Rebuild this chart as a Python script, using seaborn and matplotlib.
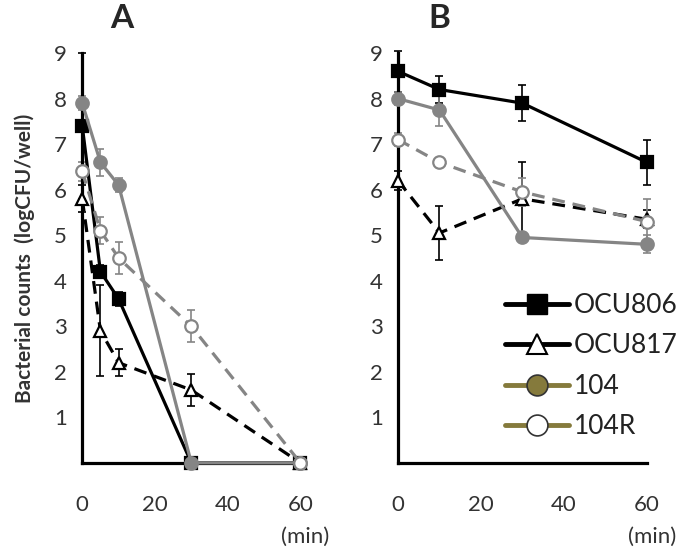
import numpy as np
import pandas as pd
import matplotlib
matplotlib.use("Agg")
import matplotlib.pyplot as plt
from matplotlib.lines import Line2D
import seaborn as sns

# panel A data
time_a = [0, 5, 10, 30, 60]
ocu806_a = [7.4, 4.2, 3.6, 0, 0]
ocu806_a_err = [1.6, 0.15, 0.15, 0, 0]
ocu817_a = [5.8, 2.9, 2.2, 1.6, 0]
ocu817_a_err = [0.3, 1.0, 0.3, 0.35, 0]
s104_a = [7.9, 6.6, 6.1, 0, 0]
s104_a_err = [0.15, 0.3, 0.15, 0, 0]
s104r_a = [6.4, 5.1, 4.5, 3.0, 0]
s104r_a_err = [0.2, 0.3, 0.35, 0.35, 0]

# panel B data
time_b = [0, 10, 30, 60]
ocu806_b = [8.6, 8.2, 7.9, 6.6]
ocu806_b_err = [0.45, 0.3, 0.4, 0.5]
ocu817_b = [6.2, 5.05, 5.8, 5.35]
ocu817_b_err = [0.2, 0.6, 0.8, 0.2]
s104_b = [8.0, 7.75, 4.95, 4.8]
s104_b_err = [0.15, 0.35, 0.1, 0.2]
s104r_b = [7.1, 6.6, 5.95, 5.3]
s104r_b_err = [0.15, 0.1, 0.3, 0.5]

labels = ["OCU806", "OCU817", "104", "104R"]
gray = "#858585"
olive = "#857a3c"

sns.set_style("white")
plt.rcParams["font.family"] = ["Lato", "DejaVu Sans"]

fig = plt.figure(figsize=(6.97, 5.53), dpi=100)
ax_a = fig.add_axes([0.118, 0.163, 0.313, 0.741])
ax_b = fig.add_axes([0.571, 0.163, 0.357, 0.741])

dash = (0, (4, 2.5))
styles = [
    dict(color="black", ls="-", marker="s", mfc="black", mec="black"),
    dict(color="black", ls=dash, marker="^", mfc="white", mec="black"),
    dict(color=gray, ls="-", marker="o", mfc=gray, mec=gray),
    dict(color=gray, ls=dash, marker="o", mfc="white", mec=gray),
]


def draw(ax, t, series, errs):
    for lab, y, e, st in zip(labels, series, errs, styles):
        df = pd.DataFrame({"t": t, "y": y})
        ax.errorbar(t, y, yerr=e, fmt="none", ecolor=st["color"], elinewidth=1.2,
                    capsize=3, capthick=1.2, clip_on=False, zorder=2)
        sns.lineplot(data=df, x="t", y="y", ax=ax, color=st["color"], linestyle=st["ls"],
                     lw=2.3, marker=st["marker"], markersize=9, markerfacecolor=st["mfc"],
                     markeredgecolor=st["mec"], markeredgewidth=1.6, clip_on=False, zorder=3)
    ax.set_xlim(0, 60)
    ax.set_ylim(0, 9)
    ax.set_xticks([0, 20, 40, 60])
    ax.set_yticks(range(1, 10))
    ax.set_xlabel("")
    ax.set_ylabel("")
    for s in ["top", "right"]:
        ax.spines[s].set_visible(False)
    for s in ["left", "bottom"]:
        ax.spines[s].set_linewidth(2.3)
        ax.spines[s].set_color("black")
    ax.tick_params(axis="both", direction="inout", length=6, width=1.5, labelsize=16,
                   colors="black", labelcolor="#333333")
    ax.tick_params(axis="x", pad=20)
    ax.tick_params(axis="y", pad=8)
    ax.text(1.02, -0.155, "(min)", transform=ax.transAxes, ha="center", va="top",
            fontsize=16, color="#333333")


draw(ax_a, time_a, [ocu806_a, ocu817_a, s104_a, s104r_a],
     [ocu806_a_err, ocu817_a_err, s104_a_err, s104r_a_err])
draw(ax_b, time_b, [ocu806_b, ocu817_b, s104_b, s104r_b],
     [ocu806_b_err, ocu817_b_err, s104_b_err, s104r_b_err])

ax_a.text(11, 9.45, "A", fontsize=24, fontweight="bold", ha="center", va="bottom")
ax_b.text(10, 9.45, "B", fontsize=24, fontweight="bold", ha="center", va="bottom")

ax_a.set_ylabel("Bacterial counts  (logCFU/well)", fontsize=15, fontweight="bold",
                color="#333333", labelpad=14)

handles = [
    Line2D([], [], color="black", lw=3.5, marker="s", ms=15, mfc="black", mec="black"),
    Line2D([], [], color="black", lw=3.5, marker="^", ms=15, mfc="white", mec="black", mew=1.5),
    Line2D([], [], color=olive, lw=3.5, marker="o", ms=15, mfc=olive, mec="#333333", mew=1.2),
    Line2D([], [], color=olive, lw=3.5, marker="o", ms=15, mfc="white", mec="#333333", mew=1.2),
]
ax_b.legend(handles, labels, loc="lower right", bbox_to_anchor=(1.22, 0.0), frameon=False,
            fontsize=19, handlelength=2.4, handletextpad=0.2, labelspacing=0.58,
            labelcolor="#222222")

fig.savefig("out.png", dpi=100)
